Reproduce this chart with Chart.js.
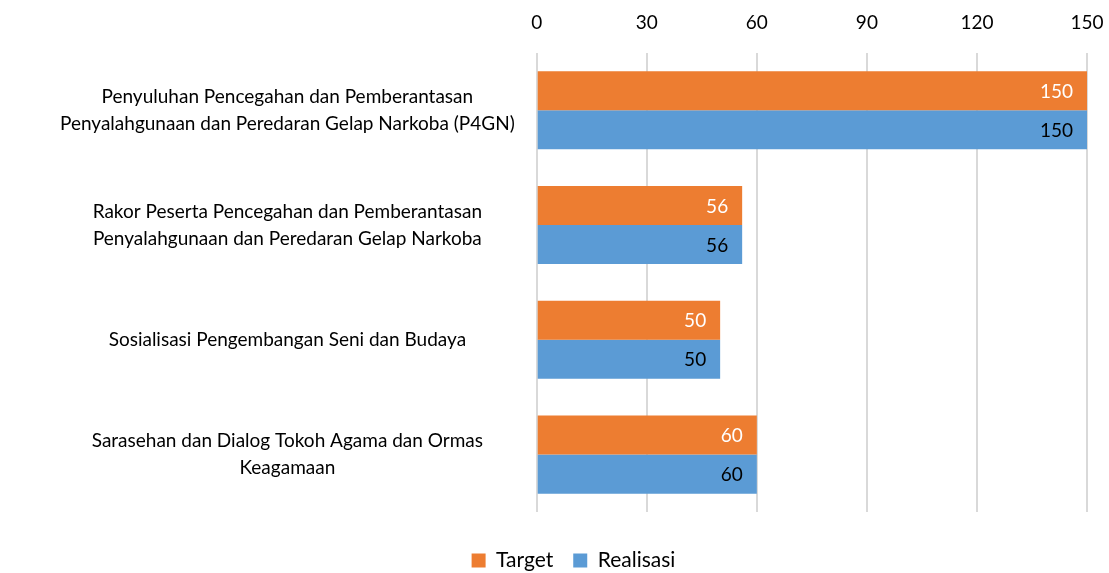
<!DOCTYPE html>
<html>
<head>
<meta charset="utf-8">
<script src="https://cdn.jsdelivr.net/npm/chart.js@4/dist/chart.umd.min.js"></script>
<style>
  html, body { margin: 0; padding: 0; background: #fff; }
  #wrap { width: 1109px; height: 573px; }
</style>
</head>
<body>
<div id="wrap"><canvas id="c"></canvas></div>
<script>
var categories = [
  ['Penyuluhan Pencegahan dan Pemberantasan', 'Penyalahgunaan dan Peredaran Gelap Narkoba (P4GN)'],
  ['Rakor Peserta Pencegahan dan Pemberantasan', 'Penyalahgunaan dan Peredaran Gelap Narkoba'],
  ['Sosialisasi Pengembangan Seni dan Budaya'],
  ['Sarasehan dan Dialog Tokoh Agama dan Ormas', 'Keagamaan']
];
var target = [150, 56, 50, 60];
var realisasi = [150, 56, 50, 60];
var tickStep = 30;
var axisMax = 150;

// angka di ujung batang
var barLabels = {
  id: 'barLabels',
  afterDatasetsDraw: function(chart) {
    var ctx = chart.ctx;
    ctx.save();
    ctx.font = '19px Lato';
    ctx.textAlign = 'right';
    ctx.textBaseline = 'middle';
    chart.data.datasets.forEach(function(ds, i) {
      var meta = chart.getDatasetMeta(i);
      meta.data.forEach(function(bar, j) {
        ctx.fillStyle = ds.labelColor;
        ctx.fillText(ds.data[j], bar.x - 14, bar.y + 1);
      });
    });
    ctx.restore();
  }
};

// legenda digeser sedikit ke bawah
var legendShift = {
  id: 'legendShift',
  afterLayout: function(chart) {
    if (chart.legend) {
      chart.legend.top += 18;
      chart.legend.bottom += 18;
    }
  }
};

var ctx = document.getElementById('c');
var chart = new Chart(ctx, {
  type: 'bar',
  data: {
    labels: categories,
    datasets: [
      { label: 'Target', data: target, backgroundColor: '#ed7d31', labelColor: '#ffffff',
        categoryPercentage: 0.68, barPercentage: 1.0 },
      { label: 'Realisasi', data: realisasi, backgroundColor: '#5b9bd5', labelColor: '#000000',
        categoryPercentage: 0.68, barPercentage: 1.0 }
    ]
  },
  options: {
    indexAxis: 'y',
    responsive: true,
    maintainAspectRatio: false,
    animation: false,
    layout: { padding: { top: -8, right: 0, left: 38, bottom: 10 } },
    scales: {
      x: {
        position: 'top',
        min: 0,
        max: axisMax,
        ticks: { stepSize: tickStep, color: '#000', font: { family: 'Lato', size: 19 }, padding: 19 },
        grid: { color: '#d9d9d9', lineWidth: 2, drawTicks: false },
        border: { display: false },
        afterFit: function(s) { s.paddingRight = 22; }
      },
      y: {
        ticks: { color: '#000', font: { family: 'Lato', size: 19, lineHeight: 1.42 }, crossAlign: 'center', padding: 22 },
        grid: { display: false, drawTicks: false },
        border: { display: false },
        afterFit: function(s) { s.paddingTop = 0; s.paddingBottom = 0; }
      }
    },
    plugins: {
      legend: {
        position: 'bottom',
        labels: { color: '#000', font: { family: 'Lato', size: 21 }, boxWidth: 14, boxHeight: 14, padding: 20 }
      },
      tooltip: { enabled: false }
    }
  },
  plugins: [barLabels, legendShift]
});
</script>
</body>
</html>
